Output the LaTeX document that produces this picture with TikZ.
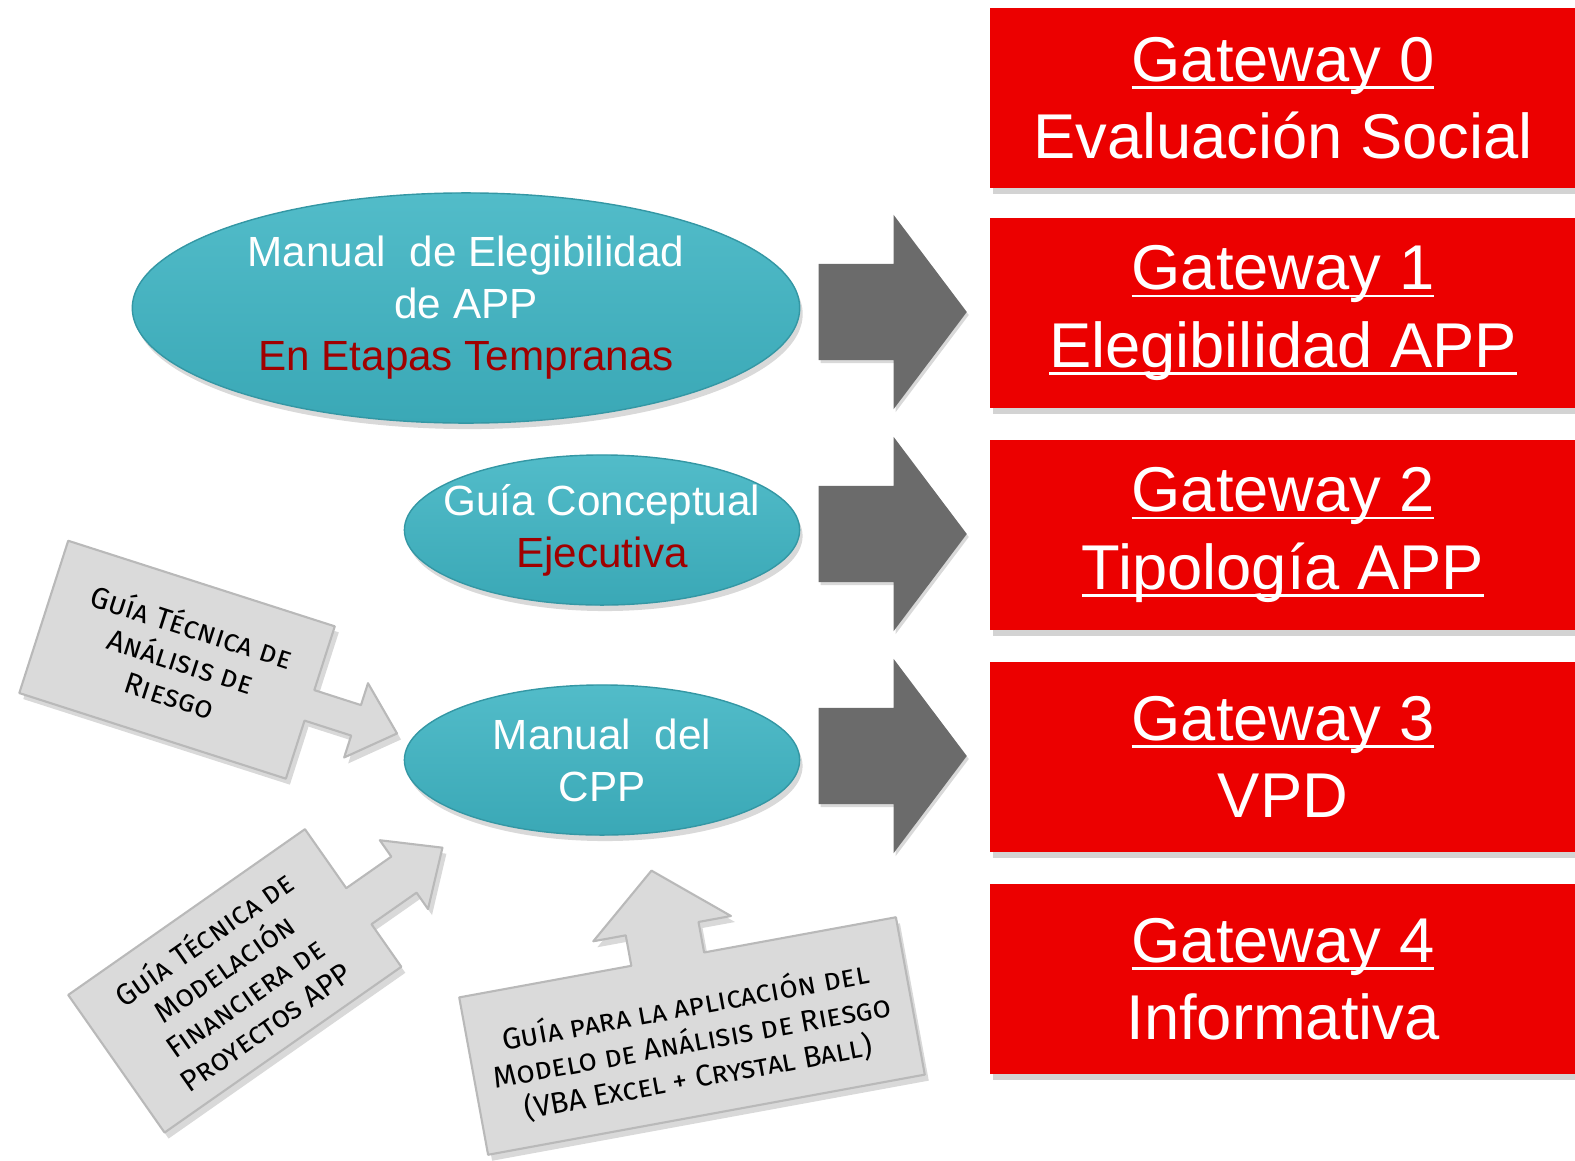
\documentclass[tikz,border=0pt]{standalone}
\usepackage{fontspec}
\setmainfont{Liberation Sans}
\newfontfamily\capsfont{Fira Sans}
\usetikzlibrary{shapes.geometric,shapes.arrows,shadows,positioning}

\definecolor{gwred}{HTML}{EC0000}
\definecolor{tealtop}{HTML}{52BCC9}
\definecolor{tealbot}{HTML}{3AA8B6}
\definecolor{etapared}{HTML}{A00000}
\definecolor{arrowgray}{HTML}{6B6B6B}
\definecolor{notegray}{HTML}{DADADA}

% underline sitting just under the baseline
\newcommand{\ulgate}[1]{\setbox0\hbox{#1}\rlap{\rule[-0.12em]{\wd0}{0.045em}}\box0}

\begin{document}
\begin{tikzpicture}[x=0.01cm,y=-0.01cm,
	gatebox/.style={shape=rectangle, fill=gwred, text=white, minimum width=5.85cm, minimum height=1.9cm,
		align=center, font=\fontsize{18}{22}\selectfont,
		drop shadow={shadow xshift=0.03cm, shadow yshift=-0.06cm, opacity=0.35}},
	manual/.style={shape=ellipse, top color=tealtop, bottom color=tealbot, draw=tealbot!90!black, text=white,
		align=center, inner ysep=0pt, inner xsep=-0.2cm, font=\fontsize{12}{14.8}\selectfont,
		drop shadow={shadow xshift=0.03cm, shadow yshift=-0.06cm, opacity=0.3}},
	bigarrow/.style={shape=single arrow, fill=arrowgray, inner xsep=0pt, inner ysep=0.475cm,
		minimum height=1.48cm, single arrow head extend=0.49cm, single arrow tip angle=106,
		drop shadow={shadow xshift=0.02cm, shadow yshift=-0.03cm, opacity=0.3}},
	notebox/.style={fill=notegray, draw=gray!55, line width=0.6pt, line join=round,
		drop shadow={shadow xshift=0.04cm, shadow yshift=-0.06cm, opacity=0.3}},
	notetext/.style={align=center, inner sep=0pt, font=\fontsize{8.5}{10.2}\capsfont\scshape}
]
\useasboundingbox (0,0) rectangle (1575,1160);

% gateways
\path (1283,98) node (gw0) [gatebox, minimum height=1.8cm] {\ulgate{Gateway 0}\\Evaluación Social}
	  (1283,313) node (gw1) [gatebox] {\ulgate{Gateway 1}\\\ulgate{Elegibilidad APP}}
	  (1283,535) node (gw2) [gatebox] {\ulgate{Gateway 2}\\\ulgate{Tipología APP}}
	  (1283,757) node (gw3) [gatebox] {\ulgate{Gateway 3}\\VPD}
	  (1283,979) node (gw4) [gatebox] {\ulgate{Gateway 4}\\Informativa};

% manuals
\path (466,308) node (eleg) [manual, minimum width=6.67cm, minimum height=2.3cm]
		{Manual\ \ de Elegibilidad\\de APP\\\textcolor{etapared}{En Etapas Tempranas}}
	  (602,530) node (concep) [manual, minimum width=3.95cm, minimum height=1.5cm]
		{Guía Conceptual\\\textcolor{etapared}{Ejecutiva}}
	  (602,760) node (cpp) [manual, minimum width=3.95cm, minimum height=1.5cm]
		{Manual\ \ del\\CPP};

% block arrows
\path (818,312) node (arr1) [bigarrow, anchor=tail] {}
	  (818,534) node (arr2) [bigarrow, anchor=tail] {}
	  (818,756) node (arr3) [bigarrow, anchor=tail] {};

% guides
\begin{scope}[shift={(178,660)}, rotate=-17.8]
	\draw [notebox] (-141,-80) -- (139,-80) -- (139,-13) -- (188,-13) -- (188,-36) -- (231,3)
		-- (188,42) -- (188,19) -- (139,19) -- (139,80) -- (-141,80) -- cycle;
\end{scope}
\node (riesgo) [notetext, rotate=-17.8] at (181,660) {Guía Técnica de\\Análisis de\\Riesgo};

\begin{scope}[shift={(236,980)}, rotate=35]
	\draw [notebox] (-146,-84) -- (143,-84) -- (143,-12) -- (198,-12) -- (198,-32) -- (245,10)
		-- (198,52) -- (198,32) -- (143,32) -- (143,84) -- (-146,84) -- cycle;
\end{scope}
\node (modelo) [notetext, rotate=35] at (234,982) {Guía Técnica de\\Modelación\\Financiera de\\Proyectos APP};

\begin{scope}[shift={(692,1036)}, rotate=10.4]
	\draw [notebox] (-222,-80) -- (-47,-80) -- (-47,-111) -- (-80,-111) -- (-10,-170) -- (60,-111)
		-- (27,-111) -- (27,-80) -- (222,-80) -- (222,80) -- (-222,80) -- cycle;
\end{scope}
\node (vba) [notetext, rotate=10.4] at (692,1042)
	{Guía para la aplicación del\\Modelo de Análisis de Riesgo\\(VBA Excel + Crystal Ball)};
\end{tikzpicture}
\end{document}
